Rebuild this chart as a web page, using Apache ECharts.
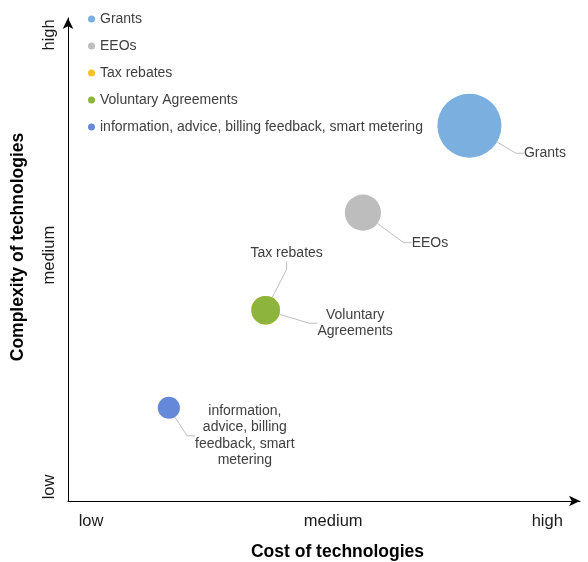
<!DOCTYPE html>
<html>
<head>
<meta charset="utf-8">
<script src="https://cdn.jsdelivr.net/npm/echarts@6/dist/echarts.min.js"></script>
<style>html,body{margin:0;padding:0;background:#fff;}#c{width:588px;height:562px;}</style>
</head>
<body>
<div id="c"></div>
<script>
// Data
const seriesNames = ['Grants', 'EEOs', 'Tax rebates', 'Voluntary Agreements', 'information, advice, billing feedback, smart metering'];
const costValues = [78.4, 57.6, 38.6, 38.6, 19.7];
const complexityValues = [77.7, 59.7, 39.5, 39.5, 19.3];
const bubbleSizes = [100, 32, 20, 20, 12];
const labelTexts = ['Grants', 'EEOs', 'Tax rebates', 'Voluntary\nAgreements', 'information,\nadvice, billing\nfeedback, smart\nmetering'];
const xTickLabels = ['low', 'medium', 'high'];
const xTickValues = [4.5, 51.8, 93.6];
const yTickLabels = ['low', 'medium', 'high'];
const yTickValues = [2.9, 50.9, 96.5];

// Styles
const colors = ['#7aafe0', '#bdbdbd', '#fbbf2a', '#8db43c', '#6589d8'];
const labelOffsets = [[75.5, 27.5], [67, 30], [21, -57], [89.5, 13], [76, 28]];
const FONT = '"Liberation Sans", Arial, sans-serif';

const chart = echarts.init(document.getElementById('c'), null, {renderer: 'canvas'});

const series = seriesNames.map((name, i) => ({
  name: name,
  type: 'scatter',
  data: [[costValues[i], complexityValues[i], bubbleSizes[i]]],
  symbolSize: d => Math.sqrt(d[2]) * 6.4,
  itemStyle: { color: colors[i], opacity: 1 },
  emphasis: { disabled: true },
  label: {
    show: true,
    position: 'inside',
    formatter: labelTexts[i],
    color: '#404040',
    fontFamily: FONT,
    fontSize: 14,
    lineHeight: 16.5,
    align: 'center'
  },
  labelLine: { show: true, lineStyle: { color: '#bfbfbf', width: 1 }, length2: 8 },
  labelLayout: { dx: labelOffsets[i][0], dy: labelOffsets[i][1] }
}));

const option = {
  animation: false,
  backgroundColor: '#fff',
  legend: {
    orient: 'vertical',
    left: 88,
    top: 12,
    padding: 0,
    itemGap: 13,
    itemWidth: 7,
    itemHeight: 7,
    icon: 'circle',
    selectedMode: false,
    textStyle: { color: '#404040', fontFamily: FONT, fontSize: 14 },
    data: seriesNames
  },
  grid: { left: 68, right: 8, top: 18, bottom: 61, containLabel: false, outerBoundsMode: 'none' },
  xAxis: {
    type: 'value', min: 0, max: 100,
    name: 'Cost of technologies',
    nameLocation: 'middle', nameGap: 42,
    nameTextStyle: { color: '#000', fontFamily: FONT, fontSize: 17.5, fontWeight: 'bold', padding: [0, 0, 0, 27] },
    axisLine: { show: true, symbol: ['none', 'arrow'], symbolSize: [8, 11], lineStyle: { color: '#000', width: 1 } },
    axisTick: { show: false },
    splitLine: { show: false },
    axisLabel: {
      customValues: xTickValues,
      formatter: v => xTickLabels[xTickValues.indexOf(v)],
      color: '#1a1a1a', fontFamily: FONT, fontSize: 16.5, margin: 12
    }
  },
  yAxis: {
    type: 'value', min: 0, max: 100,
    name: 'Complexity of technologies',
    nameLocation: 'middle', nameGap: 41, nameRotate: 90,
    nameTextStyle: { color: '#000', fontFamily: FONT, fontSize: 17.5, fontWeight: 'bold', padding: [0, 0, 0, 25] },
    axisLine: { show: true, symbol: ['none', 'arrow'], symbolSize: [8, 11], lineStyle: { color: '#000', width: 1 } },
    axisTick: { show: false },
    splitLine: { show: false },
    axisLabel: {
      customValues: yTickValues,
      rotate: 90,
      formatter: v => yTickLabels[yTickValues.indexOf(v)],
      color: '#1a1a1a', fontFamily: FONT, fontSize: 16.5, margin: 10
    }
  },
  series: series
};
chart.setOption(option);
</script>
</body>
</html>
